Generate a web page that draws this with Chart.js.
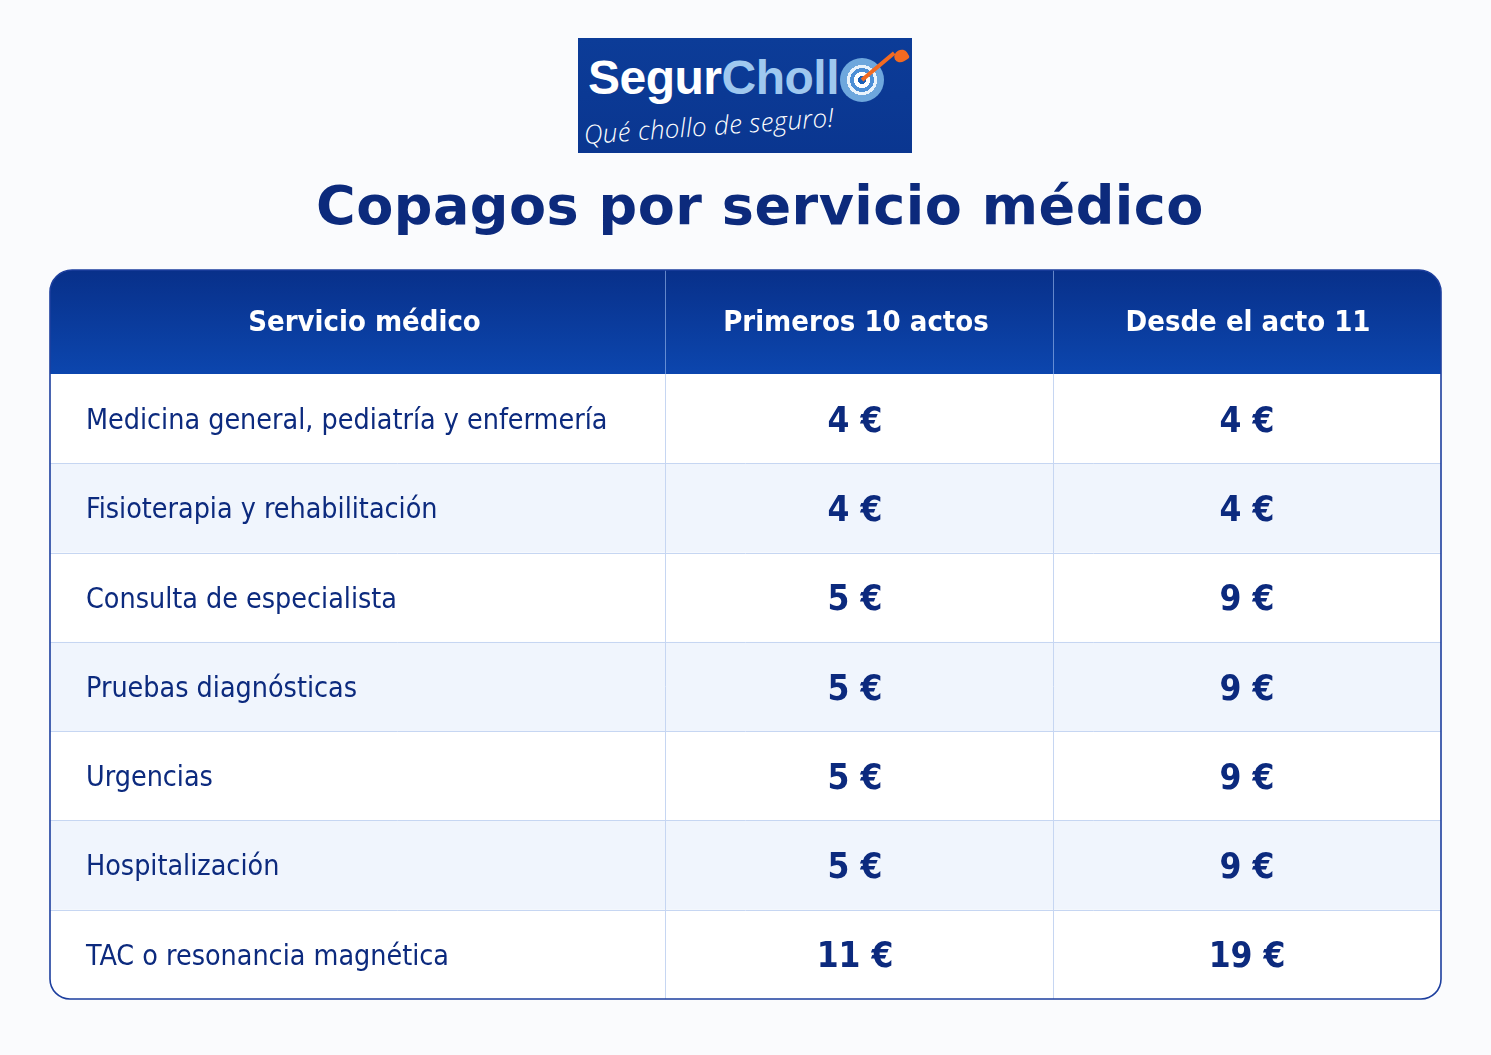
<!DOCTYPE html>
<html lang="es">
<head>
<meta charset="utf-8">
<title>Copagos por servicio médico</title>
<script src="https://cdn.jsdelivr.net/npm/chart.js@4/dist/chart.umd.min.js"></script>
<style>
  html, body { margin: 0; padding: 0; }
  body {
    width: 1491px; height: 1055px; overflow: hidden; position: relative;
    background: #fafbfd;
    font-family: "DejaVu Sans", sans-serif;
  }
  .logo {
    position: absolute; left: 578px; top: 38px; width: 334px; height: 115px;
    background: linear-gradient(180deg, #0c3c98 0%, #0a3690 100%);
    overflow: hidden;
  }
  .logo .brand {
    position: absolute; left: 10px; top: 12px;
    font: bold 48px "Liberation Sans", Arial, sans-serif; letter-spacing: -0.5px;
    color: #fff;
  }
  .logo .brand span { color: #9fc8ef; }
  .logo .tag {
    position: absolute; left: 7px; top: 78px;
    font: italic 300 26px "Open Sans", "DejaVu Sans Condensed", sans-serif;
    color: #fff; transform: rotate(-4deg); transform-origin: left bottom;
    letter-spacing: 0.3px;
  }
  .target {
    position: absolute; left: 262px; top: 20px; width: 44px; height: 44px; border-radius: 50%;
    background: radial-gradient(circle, #1a5fb8 0 4px, #ffffff 4px 8px, #4d8fd6 8px 12px, #eaf3fc 12px 15px, #6ea7dd 15px 22px);
  }
  .dart {
    position: absolute; left: 284px; top: 18px; width: 42px; height: 4px; background: #f26a21;
    transform-origin: left center; transform: translate(0, 22px) rotate(-40deg);
  }
  .fin {
    position: absolute; left: 316px; top: 12px; width: 14px; height: 12px; background: #f26a21;
    border-radius: 50% 50% 20% 50%; transform: rotate(-30deg);
  }
  h1 {
    position: absolute; left: 0; top: 174px; width: 1520px; margin: 0; text-align: center;
    font: bold 54px "DejaVu Sans", sans-serif; color: #0c2a7c; letter-spacing: 0.5px;
  }
  #wrap { position: absolute; left: 48px; top: 268px; width: 1395px; height: 733px; }
</style>
</head>
<body>
<div class="logo">
  <div class="brand">Segur<span>Choll</span></div>
  <div class="target"></div>
  <div class="dart"></div>
  <div class="fin"></div>
  <div class="tag">Qué chollo de seguro!</div>
</div>
<h1>Copagos por servicio médico</h1>
<div id="wrap"><canvas id="tabla"></canvas></div>
<script>
// Datos de la tabla
const headers = ['Servicio médico', 'Primeros 10 actos', 'Desde el acto 11'];
const services = [
    'Medicina general, pediatría y enfermería',
    'Fisioterapia y rehabilitación',
    'Consulta de especialista',
    'Pruebas diagnósticas',
    'Urgencias',
    'Hospitalización',
    'TAC o resonancia magnética'
];
const primeros = [4, 4, 5, 5, 5, 5, 11];
const desde = [4, 4, 9, 9, 9, 9, 19];

const columns = headers.slice(1);
const navy = '#0c2a7e';
const textNudge = [-4, 0]; // small horizontal nudge of the text per value column

// Function to draw a rounded rectangle path
function roundRect(ctx, x, y, w, h, r) {
    ctx.beginPath();
    ctx.moveTo(x + r.tl, y);
    ctx.lineTo(x + w - r.tr, y);
    ctx.arcTo(x + w, y, x + w, y + r.tr, r.tr);
    ctx.lineTo(x + w, y + h - r.br);
    ctx.arcTo(x + w, y + h, x + w - r.br, y + h, r.br);
    ctx.lineTo(x + r.bl, y + h);
    ctx.arcTo(x, y + h, x, y + h - r.bl, r.bl);
    ctx.lineTo(x, y + r.tl);
    ctx.arcTo(x, y, x + r.tl, y, r.tl);
    ctx.closePath();
}

// Plugin that paints the table grid behind the (invisible) points
const tablePlugin = {
    id: 'tablePlugin',
    beforeDatasetsDraw(chart) {
        const { ctx, chartArea, scales: { x, y } } = chart;
        const left = 2, top = 2, right = chart.width - 2, bottom = chart.height - 2;
        const rowH = y.getPixelForValue(1) - y.getPixelForValue(0);
        const colW = x.getPixelForValue(1) - x.getPixelForValue(0);

        ctx.save();
        // body background
        roundRect(ctx, left, top, right - left, bottom - top, { tl: 22, tr: 22, br: 20, bl: 20 });
        ctx.fillStyle = '#ffffff';
        ctx.fill();
        ctx.clip();

        // alternate rows
        services.forEach((s, i) => {
            if (i % 2 === 1) {
                ctx.fillStyle = '#f0f5fd';
                ctx.fillRect(left, y.getPixelForValue(i) - rowH / 2, right - left, rowH);
            }
        });

        // header
        const grad = ctx.createLinearGradient(0, top, 0, chartArea.top);
        grad.addColorStop(0, '#08308a');
        grad.addColorStop(1, '#0c46ae');
        ctx.fillStyle = grad;
        ctx.fillRect(left, top, right - left, chartArea.top - top);

        // grid lines
        ctx.strokeStyle = '#c6d6f2';
        ctx.lineWidth = 1;
        for (let i = 1; i < services.length; i++) {
            const yy = Math.round(y.getPixelForValue(i) - rowH / 2) + 0.5;
            ctx.beginPath();
            ctx.moveTo(left, yy);
            ctx.lineTo(right, yy);
            ctx.stroke();
        }
        const colLines = [chartArea.left, x.getPixelForValue(1) - colW / 2];
        colLines.forEach(cx => {
            const xx = Math.round(cx) + 0.5;
            ctx.beginPath();
            ctx.moveTo(xx, chartArea.top);
            ctx.lineTo(xx, bottom);
            ctx.stroke();
            ctx.beginPath();
            ctx.strokeStyle = 'rgba(160,190,240,0.6)';
            ctx.moveTo(xx, top);
            ctx.lineTo(xx, chartArea.top);
            ctx.stroke();
            ctx.strokeStyle = '#c6d6f2';
        });
        ctx.restore();

        // outer border
        ctx.save();
        roundRect(ctx, left, top, right - left, bottom - top, { tl: 22, tr: 22, br: 20, bl: 20 });
        ctx.strokeStyle = '#1d3f9e';
        ctx.lineWidth = 1.6;
        ctx.stroke();
        ctx.restore();

        // header texts
        ctx.save();
        ctx.fillStyle = '#ffffff';
        ctx.font = "bold 29px 'DejaVu Sans Condensed', 'DejaVu Sans', sans-serif";
        ctx.textAlign = 'center';
        ctx.textBaseline = 'middle';
        const hy = (top + chartArea.top) / 2 + 1;
        ctx.fillText(headers[0], (left + chartArea.left) / 2 + 7, hy);
        columns.forEach((c, j) => ctx.fillText(c, x.getPixelForValue(j) + textNudge[j] + 1, hy));

        // service names
        ctx.fillStyle = navy;
        ctx.font = "28.4px 'DejaVu Sans Condensed', 'DejaVu Sans', sans-serif";
        ctx.textAlign = 'left';
        services.forEach((s, i) => ctx.fillText(s, left + 36, y.getPixelForValue(i) + 3));
        ctx.restore();
    },
    afterDatasetsDraw(chart) {
        const { ctx } = chart;
        ctx.save();
        ctx.fillStyle = navy;
        ctx.font = "bold 35px 'DejaVu Sans Condensed', 'DejaVu Sans', sans-serif";
        ctx.textAlign = 'center';
        ctx.textBaseline = 'middle';
        chart.data.datasets.forEach((ds, d) => {
            const meta = chart.getDatasetMeta(d);
            meta.data.forEach((pt, i) => {
                ctx.fillText(ds.data[i].v + ' €', pt.x + textNudge[d], pt.y + 4);
            });
        });
        ctx.restore();
    }
};

function buildData(values, col) {
    return services.map((s, i) => ({ x: col, y: s, v: values[i] }));
}

new Chart(document.getElementById('tabla'), {
    type: 'line',
    data: {
        datasets: [
            { label: columns[0], data: buildData(primeros, columns[0]), showLine: false, pointRadius: 0 },
            { label: columns[1], data: buildData(desde, columns[1]), showLine: false, pointRadius: 0 }
        ]
    },
    options: {
        responsive: true,
        maintainAspectRatio: false,
        animation: false,
        layout: { padding: { left: 617, top: 106, right: 2, bottom: 2 } },
        scales: {
            x: { type: 'category', labels: columns, offset: true, display: false },
            y: { type: 'category', labels: services, offset: true, display: false }
        },
        plugins: {
            legend: { display: false },
            tooltip: { enabled: false }
        }
    },
    plugins: [tablePlugin]
});
</script>
</body>
</html>
